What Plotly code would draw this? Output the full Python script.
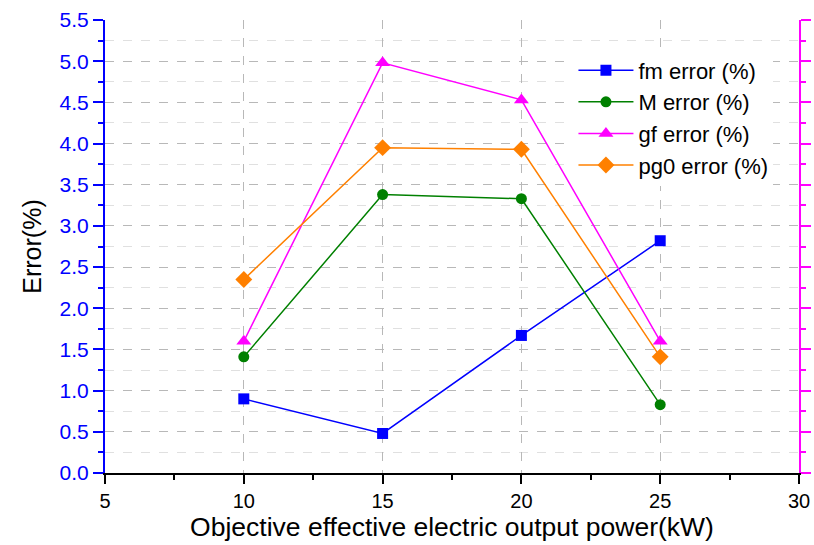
import plotly.graph_objects as go

power_kw = [10, 15, 20, 25]
fm_error = [0.90, 0.48, 1.67, 2.82]
m_error = [1.41, 3.38, 3.33, 0.83]
gf_error = [1.60, 4.98, 4.53, 1.60]
pg0_error = [2.35, 3.95, 3.93, 1.41]

series = [
    ("fm error (%)", fm_error, "#0000FF", "square", 11),
    ("M error (%)", m_error, "#008000", "circle", 11),
    ("gf error (%)", gf_error, "#FF00FF", "triangle-up", 13),
    ("pg0 error (%)", pg0_error, "#FF8000", "diamond", 13),
]

fig = go.Figure()
for name, vals, color, sym, size in series:
    fig.add_trace(go.Scatter(
        x=power_kw, y=vals, name=name, mode="lines+markers",
        line=dict(color=color, width=1.5),
        marker=dict(symbol=sym, size=size, color=color),
    ))

# invisible trace to anchor the right axis
fig.add_trace(go.Scatter(x=[power_kw[0]], y=[0], yaxis="y2", showlegend=False,
                         mode="markers", marker=dict(opacity=0), hoverinfo="skip"))

font = "Liberation Sans, Arial, sans-serif"
fig.update_layout(
    width=814, height=545,
    margin=dict(l=105, r=15, t=20, b=72),
    paper_bgcolor="white", plot_bgcolor="white",
    font=dict(family=font, size=20, color="black"),
    xaxis=dict(
        range=[5, 30], dtick=5, tick0=5, automargin=False,
        showline=True, linecolor="black", linewidth=2,
        ticks="outside", ticklen=9, tickwidth=2, tickcolor="black",
        minor=dict(dtick=2.5, ticks="outside", ticklen=5, tickwidth=2, tickcolor="black", showgrid=False),
        showgrid=True, gridcolor="#b8b8b8", griddash="dash", gridwidth=1,
        zeroline=False,
        title=dict(text="Objective effective electric output power(kW)", font=dict(size=26.5), standoff=0),
        tickfont=dict(size=20, color="black"),
    ),
    yaxis=dict(
        range=[0, 5.5], dtick=0.5, tick0=0, tickformat=".1f", automargin=False,
        showline=True, linecolor="#0000FF", linewidth=2,
        ticks="outside", ticklen=10, tickwidth=2, tickcolor="#0000FF",
        minor=dict(dtick=0.25, ticks="outside", ticklen=5, tickwidth=2, tickcolor="#0000FF",
                   showgrid=True, gridcolor="#e0e0e0", griddash="dash", gridwidth=1),
        showgrid=True, gridcolor="#b8b8b8", griddash="dash", gridwidth=1,
        zeroline=False,
        tickfont=dict(size=21, color="#0000FF"),
        title=dict(text="Error(%)", font=dict(size=25, color="black"), standoff=11),
    ),
    yaxis2=dict(
        range=[0, 5.5], dtick=0.5, tick0=0, overlaying="y", side="right", automargin=False,
        showline=True, linecolor="#FF00FF", linewidth=2,
        ticks="outside", ticklen=10, tickwidth=2, tickcolor="#FF00FF",
        minor=dict(dtick=0.25, ticks="outside", ticklen=5, tickwidth=2, tickcolor="#FF00FF", showgrid=False),
        showticklabels=False, showgrid=False, zeroline=False,
    ),
    legend=dict(
        x=0.675, y=0.935, xanchor="left", yanchor="top",
        bgcolor="white", borderwidth=0,
        font=dict(size=22, color="black"),
        itemwidth=55, tracegroupgap=0,
    ),
)

fig.write_html("out.html")
